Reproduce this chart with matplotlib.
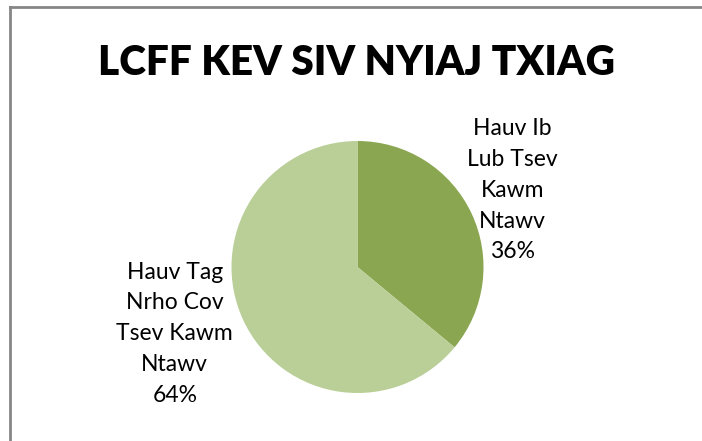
import matplotlib.pyplot as plt
from matplotlib.lines import Line2D

# data
categories = ["Hauv Ib\nLub Tsev\nKawm\nNtawv", "Hauv Tag\nNrho Cov\nTsev Kawm\nNtawv"]
shares = [36, 64]
colors = ["#8AA650", "#B9CF97"]
title = "LCFF KEV SIV NYIAJ TXIAG"

plt.rcParams['font.family'] = ['Lato', 'DejaVu Sans']

fig = plt.figure(figsize=(7.02, 4.41), dpi=100)

# chart frame (only top/left edges visible in crop)
W, H = 702, 441
fig.add_artist(Line2D([10 / W, 10 / W], [0, 1 - 6.5 / H], transform=fig.transFigure, color="#868686", lw=2))
fig.add_artist(Line2D([10 / W, 1], [1 - 6.5 / H, 1 - 6.5 / H], transform=fig.transFigure, color="#868686", lw=2))

cx, cy, r = 357.5, 441 - 267, 126
ax = fig.add_axes([(cx - r) / W, (cy - r) / H, 2 * r / W, 2 * r / H])
labels = [f"{c}\n{s}%" for c, s in zip(categories, shares)]
wedges, texts = ax.pie(shares, labels=labels, colors=colors, startangle=90, counterclock=False,
                       radius=1, textprops=dict(fontsize=16.5, ha="center", va="center", linespacing=1.58))
label_pos = [(1.23, 0.61), (-1.45, -0.53)]
for t, p in zip(texts, label_pos):
    t.set_position(p)
    t.set_ha("center")
    t.set_va("center")
ax.set_xlim(-1, 1)
ax.set_ylim(-1, 1)
ax.axis("off")

fig.text(356 / W, 1 - 75 / H, title, ha="center", va="baseline", fontsize=29.2, fontweight="heavy")

fig.savefig("out.png", dpi=100)
